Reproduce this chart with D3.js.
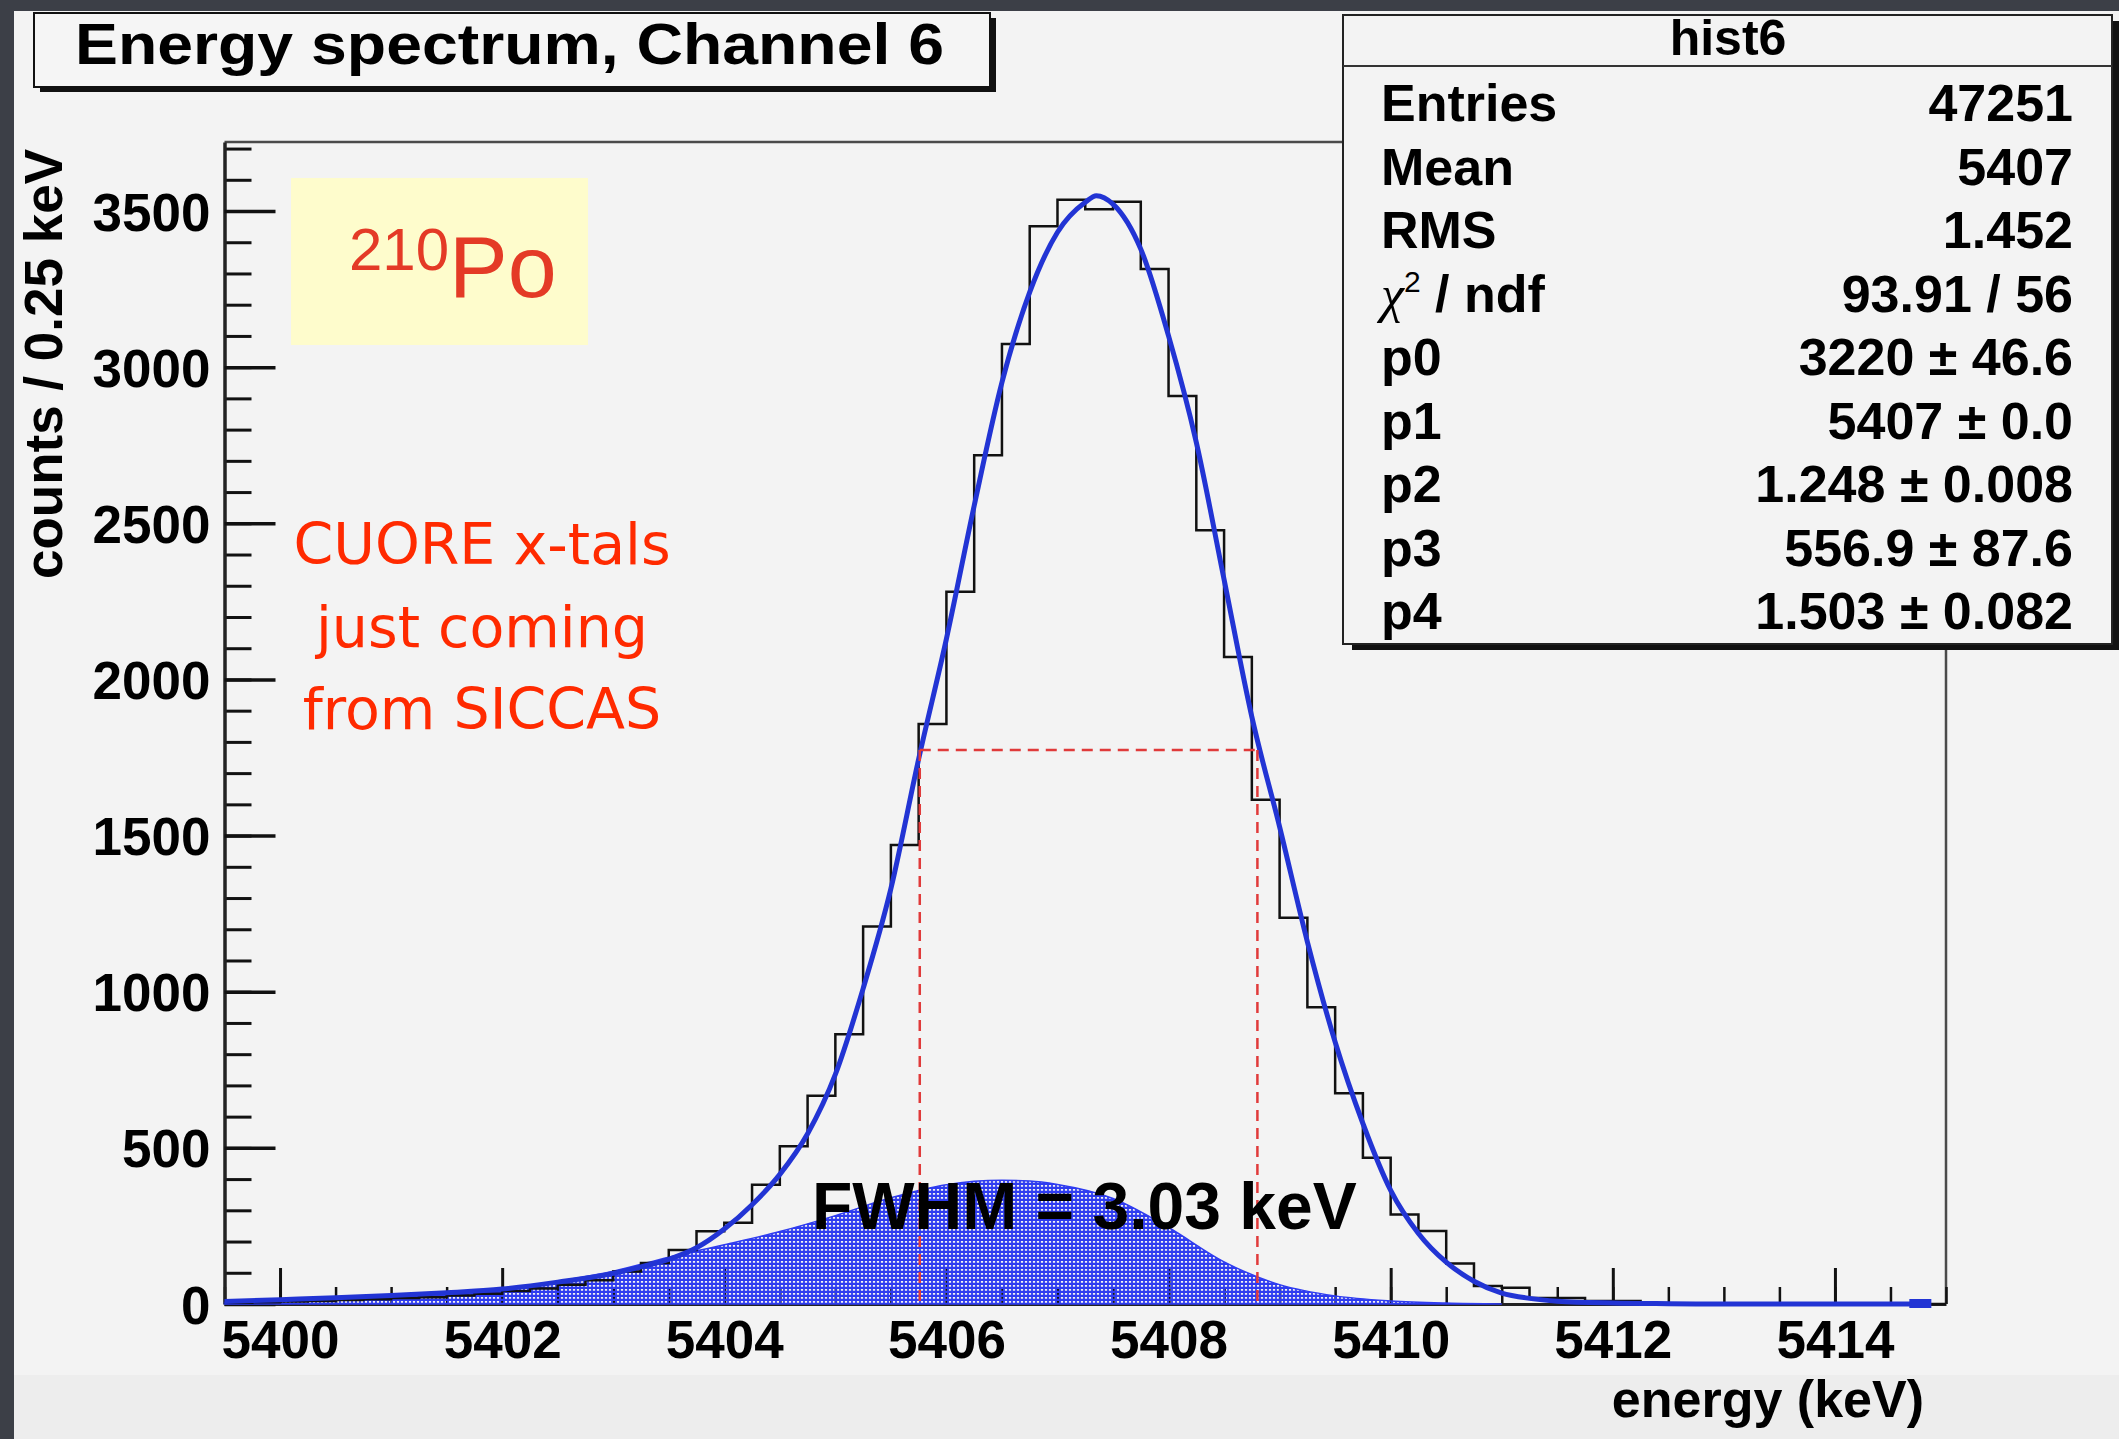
<!DOCTYPE html>
<html>
<head>
<meta charset="utf-8">
<script src="https://cdn.jsdelivr.net/npm/d3@7"></script>
<style>
  html, body { margin: 0; padding: 0; background: #3c3f47; }
  svg { display: block; }
</style>
</head>
<body>
<div id="chart"></div>
<script>
// Histogram: 0.25 keV bins, first bin starts at 5399.5 keV
const binLow = 5399.5;
const binWidth = 0.25;
const binCounts = [
  4, 6, 8, 10, 13, 15, 19, 22, 27, 33,
  42, 50, 62, 76, 104, 131, 173, 233, 260, 382,
  505, 667, 864, 1209, 1470, 1857, 2281, 2718, 3074, 3451,
  3536, 3506, 3530, 3314, 2908, 2478, 2072, 1615, 1237, 950,
  675, 468, 287, 234, 130, 58, 52, 19, 19, 10,
  10, 3, 2, 1, 0, 0, 0, 0, 0, 0,
  0, 0
];

// Fit curve
const fitEnergy = [
  5399.5, 5400.0, 5400.5, 5401.0, 5401.5, 5402.0, 5402.5, 5403.0, 5403.25, 5403.5,
  5403.75, 5404.0, 5404.25, 5404.5, 5404.75, 5405.0, 5405.25, 5405.5, 5405.75, 5406.0,
  5406.25, 5406.5, 5406.75, 5407.0, 5407.25, 5407.35, 5407.5, 5407.75, 5408.0, 5408.25,
  5408.5, 5408.75, 5409.0, 5409.25, 5409.5, 5409.75, 5410.0, 5410.25, 5410.5, 5410.75,
  5411.0, 5411.25, 5411.5, 5412.0, 5412.5, 5413.0, 5414.85
];
const fitCounts = [
  8, 14, 20, 27, 36, 48, 70, 98, 119, 143,
  180, 240, 318, 415, 545, 735, 1010, 1330, 1745, 2130,
  2556, 2951, 3240, 3432, 3528, 3549, 3522, 3378, 3100, 2759,
  2320, 1880, 1528, 1160, 839, 578, 364, 226, 134, 73,
  35, 18, 9, 3, 1, 0, 0
];

// Low-energy tail component (filled)
const tailEnergy = [
  5399.5, 5400.0, 5400.5, 5401.0, 5401.5, 5402.0, 5402.5, 5403.0, 5403.5, 5404.0,
  5404.5, 5405.0, 5405.5, 5406.0, 5406.5, 5406.75, 5407.0, 5407.5, 5408.0, 5408.5,
  5409.0, 5409.5, 5410.0, 5410.5, 5411.0
];
const tailCounts = [
  5, 9, 14, 20, 28, 42, 72, 105, 150, 190,
  232, 283, 340, 382, 396, 394, 383, 338, 245, 135,
  62, 26, 10, 3, 0
];

// FWHM marker
const fwhmEnergy = [5405.76, 5408.80];
const halfMax = 1774;

// Axes
const xTickValues = [5400, 5402, 5404, 5406, 5408, 5410, 5412, 5414];
const yTickValues = [0, 500, 1000, 1500, 2000, 2500, 3000, 3500];

// Stats box
const statLabels = ["Entries", "Mean", "RMS", "chi2", "p0", "p1", "p2", "p3", "p4"];
const statValues = ["47251", "5407", "1.452", "93.91 / 56", "3220 \u00b1 46.6",
  "5407 \u00b1 0.0", "1.248 \u00b1 0.008", "556.9 \u00b1 87.6", "1.503 \u00b1 0.082"];

const noteLines = ["CUORE x-tals", "just coming", "from SICCAS"];

const W = 2119, H = 1439;
const rootFont = "'Liberation Sans', Arial, Helvetica, sans-serif";

const svg = d3.select("#chart").append("svg")
  .attr("width", W).attr("height", H)
  .attr("viewBox", `0 0 ${W} ${H}`);

// Slide background + canvas
svg.append("rect").attr("width", W).attr("height", H).attr("fill", "#3c3f47");
svg.append("rect").attr("x", 14).attr("y", 11).attr("width", W - 14).attr("height", H - 11)
  .attr("fill", "#f3f3f3");
svg.append("rect").attr("x", 14).attr("y", 1375).attr("width", W - 14).attr("height", H - 1375)
  .attr("fill", "#ededed");

// Pattern for the filled tail (blue with small holes)
const defs = svg.append("defs");
const pat = defs.append("pattern").attr("id", "dots")
  .attr("patternUnits", "userSpaceOnUse").attr("width", 4).attr("height", 4);
pat.append("path")
  .attr("d", "M0,0H4V4H0Z M0.9,1.1H3.1V2.7H0.9Z")
  .attr("fill", "#2f3cf0").attr("fill-rule", "evenodd");

// Scales
const x = d3.scaleLinear().domain([5399.5, 5415]).range([224.5, 1946]);
const y = d3.scaleLinear().domain([0, 3721]).range([1304, 142]);

// Frame (top and right)
svg.append("path")
  .attr("d", `M${x.range()[0]},${y.range()[1]}H${x.range()[1]}V${y.range()[0]}`)
  .attr("fill", "none").attr("stroke", "#4a4a4a").attr("stroke-width", 2.5);

// Minor ticks
svg.append("g")
  .attr("transform", `translate(0,${y.range()[0]})`)
  .call(d3.axisBottom(x).tickValues(d3.range(5399.5, 5415.01, 0.5)).tickSize(-17).tickFormat(""))
  .call(g => g.select(".domain").remove())
  .call(g => g.selectAll("line").attr("stroke", "#111").attr("stroke-width", 2.5));
svg.append("g")
  .attr("transform", `translate(${x.range()[0]},0)`)
  .call(d3.axisLeft(y).tickValues(d3.range(0, 3721, 100)).tickSize(-27).tickFormat(""))
  .call(g => g.select(".domain").remove())
  .call(g => g.selectAll("line").attr("stroke", "#111").attr("stroke-width", 3));

// Major ticks + labels
const xAxis = svg.append("g")
  .attr("transform", `translate(0,${y.range()[0]})`)
  .call(d3.axisBottom(x).tickValues(xTickValues).tickSize(-36).tickSizeOuter(0).tickFormat(d3.format("d")));
xAxis.select(".domain").attr("stroke", "#222").attr("stroke-width", 3);
xAxis.selectAll("line").attr("stroke", "#111").attr("stroke-width", 3);
xAxis.selectAll("text")
  .attr("y", 54).attr("dy", null)
  .attr("font-family", rootFont).attr("font-weight", "bold").attr("font-size", 53).attr("fill", "#000");

const yAxis = svg.append("g")
  .attr("transform", `translate(${x.range()[0]},0)`)
  .call(d3.axisLeft(y).tickValues(yTickValues).tickSize(-51).tickSizeOuter(0).tickFormat(d3.format("d")));
yAxis.select(".domain").attr("stroke", "#222").attr("stroke-width", 3.5);
yAxis.selectAll("line").attr("stroke", "#111").attr("stroke-width", 3.5);
yAxis.selectAll("text")
  .attr("x", -14).attr("dy", "0.36em")
  .attr("font-family", rootFont).attr("font-weight", "bold").attr("font-size", 53).attr("fill", "#000");

// Axis titles
svg.append("text")
  .attr("x", 1924).attr("y", 1417).attr("text-anchor", "end")
  .attr("font-family", rootFont).attr("font-weight", "bold").attr("font-size", 52)
  .text("energy (keV)");
svg.append("text")
  .attr("transform", "translate(62,149) rotate(-90)")
  .attr("text-anchor", "end")
  .attr("font-family", rootFont).attr("font-weight", "bold").attr("font-size", 53)
  .text("counts / 0.25 keV");

// Tail component (filled)
const area = d3.area()
  .x((d, i) => x(tailEnergy[i]))
  .y0(y(0))
  .y1(d => y(d))
  .curve(d3.curveMonotoneX);
svg.append("path")
  .datum(tailCounts)
  .attr("d", area)
  .attr("fill", "url(#dots)")
  .attr("stroke", "#2f3cf0").attr("stroke-width", 1.5);

// Histogram outline
const histPts = binCounts.map((c, i) => [binLow + i * binWidth, c]);
histPts.push([binLow + binCounts.length * binWidth, binCounts[binCounts.length - 1]]);
const histLine = d3.line()
  .x(d => x(d[0]))
  .y(d => y(d[1]))
  .curve(d3.curveStepAfter);
svg.append("path")
  .datum(histPts)
  .attr("d", histLine)
  .attr("fill", "none").attr("stroke", "#111").attr("stroke-width", 2.5);

// Fit curve
const fitLine = d3.line()
  .x((d, i) => x(fitEnergy[i]))
  .y(d => y(d))
  .curve(d3.curveMonotoneX);
svg.append("path")
  .datum(fitCounts)
  .attr("d", fitLine)
  .attr("fill", "none").attr("stroke", "#2234d4").attr("stroke-width", 5)
  .attr("stroke-linejoin", "round");
// end marker of the fit line
const lastE = fitEnergy[fitEnergy.length - 1];
svg.append("rect")
  .attr("x", x(lastE) - 20).attr("y", y(0) - 5)
  .attr("width", 22).attr("height", 9)
  .attr("fill", "#2234d4");

// FWHM dashed lines
const dash = svg.append("g")
  .attr("fill", "none").attr("stroke", "#e03a3a")
  .attr("stroke-width", 2.5).attr("stroke-dasharray", "11 7");
dash.append("line")
  .attr("x1", x(fwhmEnergy[0])).attr("x2", x(fwhmEnergy[1]))
  .attr("y1", y(halfMax)).attr("y2", y(halfMax));
fwhmEnergy.forEach(e => {
  dash.append("line")
    .attr("x1", x(e)).attr("x2", x(e))
    .attr("y1", y(halfMax)).attr("y2", y(0));
});

svg.append("text")
  .attr("x", 812).attr("y", 1229)
  .attr("font-family", rootFont).attr("font-weight", "bold").attr("font-size", 66)
  .attr("fill", "#000")
  .text("FWHM = 3.03 keV");

// Title box
svg.append("rect").attr("x", 40).attr("y", 18).attr("width", 956).attr("height", 74).attr("fill", "#111");
svg.append("rect").attr("x", 34).attr("y", 13).attr("width", 956).attr("height", 74)
  .attr("fill", "#f5f5f5").attr("stroke", "#111").attr("stroke-width", 2);
svg.append("text")
  .attr("x", 75).attr("y", 64)
  .attr("font-family", rootFont).attr("font-weight", "bold").attr("font-size", 58)
  .attr("textLength", 869).attr("lengthAdjust", "spacingAndGlyphs")
  .text("Energy spectrum, Channel 6");

// Stats box
const sb = { x: 1343, y: 15, w: 769, h: 629 };
svg.append("rect").attr("x", sb.x + 9).attr("y", sb.y + 6).attr("width", sb.w).attr("height", sb.h).attr("fill", "#111");
svg.append("rect").attr("x", sb.x).attr("y", sb.y).attr("width", sb.w).attr("height", sb.h)
  .attr("fill", "#f3f3f3").attr("stroke", "#222").attr("stroke-width", 2);
svg.append("line").attr("x1", sb.x).attr("x2", sb.x + sb.w).attr("y1", 66).attr("y2", 66)
  .attr("stroke", "#333").attr("stroke-width", 2);
svg.append("text")
  .attr("x", 1728).attr("y", 55).attr("text-anchor", "middle")
  .attr("font-family", rootFont).attr("font-weight", "bold").attr("font-size", 50)
  .text("hist6");

const rows = svg.append("g")
  .attr("font-family", rootFont).attr("font-weight", "bold").attr("font-size", 52).attr("fill", "#000");
statLabels.forEach((lab, i) => {
  const by = 121 + i * 63.5;
  const t = rows.append("text").attr("x", 1381).attr("y", by);
  if (lab === "chi2") {
    t.append("tspan").attr("font-family", "'Liberation Serif', serif").attr("font-weight", "normal")
      .attr("font-style", "italic").text("\u03c7");
    t.append("tspan").attr("dy", -20).attr("font-size", 30).attr("font-weight", "normal").text("2");
    t.append("tspan").attr("dy", 20).text(" / ndf");
  } else {
    t.text(lab);
  }
  rows.append("text").attr("x", 2073).attr("y", by).attr("text-anchor", "end").text(statValues[i]);
});

// 210Po label
svg.append("rect").attr("x", 291).attr("y", 178).attr("width", 297).attr("height", 167).attr("fill", "#fefccc");
const po = svg.append("text")
  .attr("x", 349).attr("y", 297)
  .attr("font-family", rootFont).attr("fill", "#e43a26");
po.append("tspan").attr("font-size", 60).attr("dy", -27).text("210");
po.append("tspan").attr("font-size", 88).attr("dy", 27).text("Po");

// Red note
svg.append("g")
  .selectAll("text")
  .data(noteLines)
  .join("text")
  .attr("x", 482)
  .attr("y", (d, i) => 564 + i * 82.5)
  .attr("text-anchor", "middle")
  .attr("font-family", "'DejaVu Sans', sans-serif")
  .attr("font-size", 57)
  .attr("fill", "#ff2a00")
  .text(d => d);
</script>
</body>
</html>
